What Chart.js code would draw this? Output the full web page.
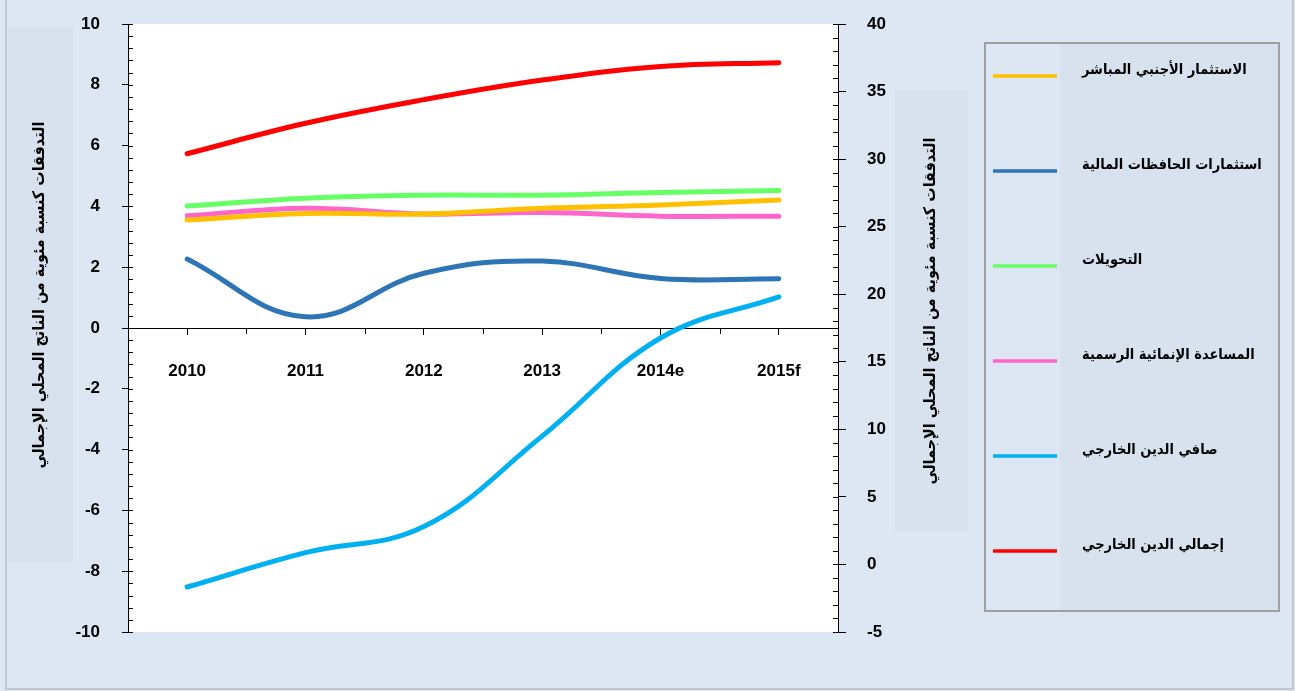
<!DOCTYPE html>
<html>
<head>
<meta charset="utf-8">
<script src="https://cdn.jsdelivr.net/npm/chart.js@4/dist/chart.umd.min.js"></script>
<style>
html,body{margin:0;padding:0;background:#dde7f3;}
canvas{display:block;}
</style>
</head>
<body>
<canvas id="c" width="1295" height="691"></canvas>
<script>
const categories = ['2010', '2011', '2012', '2013', '2014e', '2015f'];
const fdi = [3.55, 3.77, 3.75, 3.94, 4.05, 4.21];
const portfolio = [2.27, 0.37, 1.8, 2.2, 1.63, 1.62];
const transfers = [4.01, 4.27, 4.37, 4.37, 4.46, 4.52];
const oda = [3.69, 3.94, 3.75, 3.8, 3.68, 3.68];
const netDebt = [-1.67, 0.87, 2.8, 9.5, 16.76, 19.8];
const totalDebt = [30.4, 32.65, 34.4, 35.85, 36.85, 37.14];

const seriesNames = ['الاستثمار الأجنبي المباشر', 'استثمارات الحافظات المالية', 'التحويلات', 'المساعدة الإنمائية الرسمية', 'صافي الدين الخارجي', 'إجمالي الدين الخارجي'];
const seriesColors = ['#ffc000', '#2e75b6', '#66ff66', '#ff66cc', '#00b0f0', '#ff0000'];
const axisTitle = 'التدفقات كنسبة مئوية من الناتج المحلي الإجمالي';
const leftTicks = {min: -10, max: 10, step: 2, minor: 0.4};
const rightTicks = {min: -5, max: 40, step: 5, minor: 1};

const BG = '#dde7f3';
const BOX = '#d8e2ee';
const ARABIC = "'DejaVu Sans Condensed', 'DejaVu Sans', sans-serif";

const mk = (i, data, axis) => ({
  label: seriesNames[i], data: data, yAxisID: axis,
  borderColor: seriesColors[i], backgroundColor: seriesColors[i],
  borderWidth: 5, pointRadius: 0, tension: 0.4, fill: false,
  borderCapStyle: 'round', borderJoinStyle: 'round'
});

const decor = {
  id: 'decor',
  beforeDraw(chart) {
    const ctx = chart.ctx, a = chart.chartArea;
    ctx.save();
    ctx.fillStyle = BG; ctx.fillRect(0, 0, chart.width, chart.height);
    // frame
    ctx.strokeStyle = '#c4c8cc'; ctx.lineWidth = 2;
    ctx.beginPath(); ctx.moveTo(6, 0); ctx.lineTo(6, 689); ctx.lineTo(1293, 689); ctx.lineTo(1293, 0); ctx.stroke();
    // title boxes
    ctx.fillStyle = BOX;
    ctx.fillRect(8, 27, 65, 535);
    ctx.fillRect(895, 90, 73, 442);
    // plot area
    ctx.fillStyle = '#ffffff';
    ctx.fillRect(a.left, a.top, a.right - a.left, a.bottom - a.top);
    // axis titles
    ctx.fillStyle = '#000'; ctx.font = 'bold 16px ' + ARABIC;
    ctx.textAlign = 'center'; ctx.textBaseline = 'middle';
    [[40, 295], [931, 311]].forEach(([x, y]) => {
      ctx.save(); ctx.translate(x, y); ctx.rotate(-Math.PI / 2);
      ctx.fillText(axisTitle, 0, 0); ctx.restore();
    });
    // legend
    ctx.fillStyle = BG; ctx.fillRect(985, 43, 75, 568);
    ctx.fillStyle = BOX; ctx.fillRect(1060, 43, 218, 568);
    ctx.strokeStyle = '#a0a0a0'; ctx.lineWidth = 2;
    ctx.strokeRect(985, 43, 294, 568);
    ctx.font = 'bold 14.5px ' + ARABIC; ctx.textAlign = 'left';
    chart.data.datasets.forEach((ds, i) => {
      const y = 76 + i * 95;
      ctx.strokeStyle = ds.borderColor; ctx.lineWidth = 3.5; ctx.lineCap = 'butt';
      ctx.beginPath(); ctx.moveTo(993, y); ctx.lineTo(1057, y); ctx.stroke();
      ctx.fillStyle = '#000';
      ctx.fillText(ds.label, 1082, y - 6);
    });
    ctx.restore();
  },
  afterDraw(chart) {
    const ctx = chart.ctx, a = chart.chartArea;
    const y = chart.scales.y, y2 = chart.scales.y2, x = chart.scales.x;
    ctx.save();
    ctx.strokeStyle = '#000'; ctx.lineWidth = 1;
    ctx.beginPath();
    for (let v = leftTicks.min; v <= leftTicks.max + 1e-9; v += leftTicks.minor) {
      const p = Math.round(y.getPixelForValue(v)) + 0.5;
      ctx.moveTo(a.left, p); ctx.lineTo(a.left + 5, p);
    }
    for (let v = rightTicks.min; v <= rightTicks.max + 1e-9; v += rightTicks.minor) {
      const p = Math.round(y2.getPixelForValue(v)) + 0.5;
      ctx.moveTo(a.right - 5, p); ctx.lineTo(a.right, p);
    }
    const zero = Math.round(y.getPixelForValue(0));
    const half = (x.getPixelForValue(1) - x.getPixelForValue(0)) / 2;
    for (let i = 0; i <= categories.length; i++) {
      const p = Math.round(x.getPixelForValue(i) - half) + 0.5;
      ctx.moveTo(p, zero); ctx.lineTo(p, zero + 6);
    }
    ctx.stroke();
    ctx.restore();
  }
};

const fitY = w => s => { s.width = w; s.paddingTop = 0; s.paddingBottom = 0; };

new Chart(document.getElementById('c'), {
  type: 'line',
  data: {
    labels: categories,
    datasets: [
      mk(0, fdi, 'y'), mk(1, portfolio, 'y'), mk(2, transfers, 'y'),
      mk(3, oda, 'y'), mk(4, netDebt, 'y2'), mk(5, totalDebt, 'y2')
    ]
  },
  options: {
    responsive: false, animation: false,
    layout: {padding: {left: 0, top: 24, bottom: 59, right: 397}},
    plugins: {legend: {display: false}, tooltip: {enabled: false}},
    scales: {
      x: {
        position: {y: 0}, offset: true,
        grid: {display: true, drawOnChartArea: false, drawTicks: true, tickLength: 6, color: '#000'},
        border: {display: true, color: '#000', width: 1},
        ticks: {color: '#000', font: {family: "'Liberation Sans', Arial, sans-serif", size: 17, weight: 'bold'}, padding: 27, maxRotation: 0},
        afterFit: s => { s.height = 0; s.paddingLeft = 0; s.paddingRight = 0; }
      },
      y: {
        position: 'left', min: leftTicks.min, max: leftTicks.max,
        grid: {drawOnChartArea: false, drawTicks: true, tickLength: 6, color: '#000'},
        border: {display: true, color: '#000', width: 1},
        ticks: {stepSize: leftTicks.step, color: '#000', padding: 22, font: {family: "'Liberation Sans', Arial, sans-serif", size: 17, weight: 'bold'}},
        afterFit: fitY(128)
      },
      y2: {
        position: 'right', min: rightTicks.min, max: rightTicks.max,
        grid: {drawOnChartArea: false, drawTicks: true, tickLength: 8, color: '#000'},
        border: {display: true, color: '#000', width: 1},
        ticks: {stepSize: rightTicks.step, color: '#000', padding: 21, font: {family: "'Liberation Sans', Arial, sans-serif", size: 17, weight: 'bold'}},
        afterFit: fitY(60)
      }
    }
  },
  plugins: [decor]
});
</script>
</body>
</html>
